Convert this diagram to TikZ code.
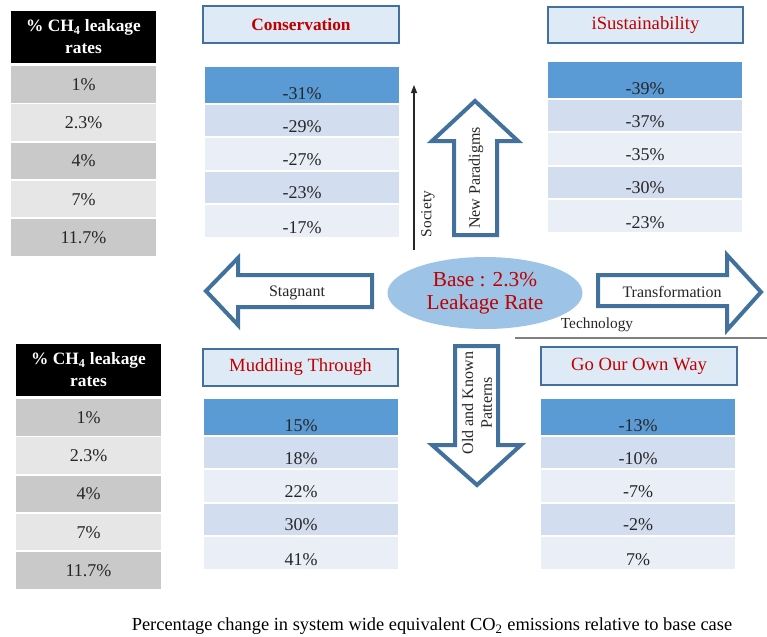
\documentclass[tikz,border=0pt]{standalone}
\usepackage{fontspec}
\setmainfont{Liberation Serif}
\usetikzlibrary{shapes.geometric,arrows.meta}

\definecolor{rowA}{HTML}{5B9BD5}
\definecolor{rowB}{HTML}{D2DEEF}
\definecolor{rowC}{HTML}{EAEFF7}
\definecolor{grayA}{HTML}{C9C9C9}
\definecolor{grayB}{HTML}{E6E6E6}
\definecolor{titlefill}{HTML}{DEEBF7}
\definecolor{steel}{HTML}{41719C}
\definecolor{scenred}{HTML}{C00000}
\definecolor{basefill}{HTML}{9DC3E6}
\definecolor{ink}{HTML}{262626}

% one coloured row of a scenario table, value set low in the row
\newcommand\vrow[8]{%
  \node[cell, fill=#8, minimum width={((#4)-(#3))*0.75pt}, minimum height={((#6)-(#5))*0.75pt}]
    (#1-#2) at ({((#3)+(#4))/2},{((#5)+(#6))/2}) {};
  \node[val] (#1-#2-t) at ({((#3)+(#4))/2},{(#6)-9.5}) {#7};}

% five-row scenario table: name, left, right, top, five values
\newcommand\valtable[9]{%
  \vrow{#1}{1}{#2}{#3}{#4}{#4+36}{#5}{rowA}
  \vrow{#1}{2}{#2}{#3}{#4+38}{#4+69}{#6}{rowB}
  \vrow{#1}{3}{#2}{#3}{#4+71}{#4+102.5}{#7}{rowC}
  \vrow{#1}{4}{#2}{#3}{#4+104.5}{#4+135.5}{#8}{rowB}
  \vrow{#1}{5}{#2}{#3}{#4+137.5}{#4+170}{#9}{rowC}}

% leakage-rate table: name, left, right, top
\newcommand\leaktable[4]{%
  \node[cell, fill=black, text=white, align=center,
    font=\bfseries\fontsize{13}{16.5}\selectfont,
    minimum width={((#3)-(#2))*0.75pt}, minimum height={52*0.75pt}]
    (#1-h) at ({((#2)+(#3))/2},{(#4)+27}) {\% CH\textsubscript{4} leakage\\rates};
  \foreach \v/\c [count=\i] in {1\%/grayA,2.3\%/grayB,4\%/grayA,7\%/grayB,11.7\%/grayA}{
    \node[cell, fill=\c, text=ink, font=\fontsize{13.5}{16}\selectfont,
      minimum width={((#3)-(#2))*0.75pt}, minimum height={36.5*0.75pt}]
      (#1-\i) at ({((#2)+(#3))/2},{(#4)+56+38.3*(\i-1)+18.25}) {\v};}}

\begin{document}
\begin{tikzpicture}[x=0.75pt,y=-0.75pt,
  cell/.style={rectangle, draw=none, inner sep=0pt, outer sep=0pt},
  val/.style={inner sep=0pt, text=ink, font=\fontsize{13.5}{16}\selectfont},
  titlebox/.style={rectangle, draw=steel, line width=1.2pt, fill=titlefill, text=scenred,
    inner sep=0pt, font=\fontsize{14}{16}\selectfont},
  blockarrow/.style={draw=steel, line width=3pt, fill=white, line join=miter},
  arrowlabel/.style={inner sep=0pt, text=ink, font=\fontsize{12}{14}\selectfont},
  axislabel/.style={inner sep=0pt, text=ink, font=\fontsize{11.5}{13}\selectfont},
]
\useasboundingbox (0,0) rectangle (767,636);

% leakage-rate tables
\leaktable{lt}{11}{156}{10}
\leaktable{lb}{16}{161}{343}

% scenario titles
\node[titlebox, font=\bfseries\fontsize{13}{16}\selectfont, minimum width={196*0.75pt}, minimum height={37*0.75pt}]
  (cons) at (301,24.5) {Conservation};
\node[titlebox, minimum width={195*0.75pt}, minimum height={36*0.75pt}]
  (isus) at (645.5,25) {iSustainability};
\node[titlebox, minimum width={195*0.75pt}, minimum height={37*0.75pt}]
  (mudd) at (300.5,367.5) {Muddling Through};
\node[titlebox, minimum width={196*0.75pt}, minimum height={38*0.75pt}]
  (gown) at (639,366) {Go Our Own Way};

% scenario tables
\valtable{ct}{205}{399}{67}{-31\%}{-29\%}{-27\%}{-23\%}{-17\%}
\valtable{it}{548}{742}{62}{-39\%}{-37\%}{-35\%}{-30\%}{-23\%}
\valtable{mt}{204}{398}{399}{15\%}{18\%}{22\%}{30\%}{41\%}
\valtable{gt}{541}{735}{399}{-13\%}{-10\%}{-7\%}{-2\%}{7\%}

% society axis
\coordinate (soc-b) at (414,250);
\coordinate (soc-t) at (414,85);
\draw[line width=0.8pt, ink, -{Triangle[length=6pt,width=4.5pt]}] (soc-b) -- (soc-t);
\node[axislabel, rotate=90] (society) at (428,214) {Society};

% technology axis
\coordinate (tech-l) at (515,338);
\coordinate (tech-r) at (767,338);
\draw[line width=0.8pt, gray] (tech-l) -- (tech-r);
\node[axislabel] (technology) at (597,325) {Technology};

% block arrows
\draw[blockarrow] (475,101) -- (518,141) -- (497,141) -- (497,235) -- (454,235) -- (454,141) -- (432,141) -- cycle;
\node[arrowlabel, rotate=90] (newpar) at (476,178) {New Paradigms};

\draw[blockarrow] (477,485) -- (521,445) -- (498,445) -- (498,346) -- (455,346) -- (455,445) -- (432,445) -- cycle;
\node[arrowlabel, rotate=90, align=center] (oldknown) at (477,403) {Old and Known\\Patterns};

\draw[blockarrow] (206,291) -- (238,258) -- (238,275) -- (372,275) -- (372,307) -- (238,307) -- (238,325) -- cycle;
\node[arrowlabel] (stagnant) at (297,293) {Stagnant};

\draw[blockarrow] (761,292) -- (727,255) -- (727,275) -- (598,275) -- (598,306) -- (727,306) -- (727,330) -- cycle;
\node[arrowlabel] (transf) at (672,292) {Transformation};

% base case
\node[ellipse, fill=basefill, draw=none, minimum width={195*0.75pt}, minimum height={72*0.75pt},
  inner sep=0pt, align=center, text=scenred, font=\fontsize{16}{17.5}\selectfont]
  (base) at (485,293) {Base : 2.3\%\\Leakage Rate};

% caption
\node[inner sep=0pt, text=black, font=\fontsize{13.8}{15}\selectfont] (caption) at (432,626)
  {Percentage change in system wide equivalent CO\textsubscript{2} emissions relative to base case};

\end{tikzpicture}
\end{document}
